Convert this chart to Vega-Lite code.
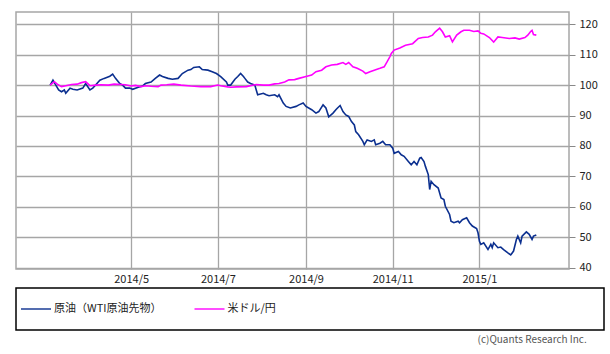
{
  "$schema": "https://vega.github.io/schema/vega-lite/v6.json",
  "background": "white",
  "padding": {"left": 15, "top": 11, "right": 7, "bottom": 4},
  "spacing": 2,
  "config": {"font": "Noto Sans CJK JP", "view": {"stroke": "#a6a6a6"}},
  "title": {"text": "(c)Quants Research Inc.", "orient": "bottom", "anchor": "end", "fontSize": 10, "fontWeight": "normal", "color": "#555555", "offset": 4, "dx": -18},
  "datasets": {
    "prices": [
      {"date": "2014-03-05", "key": "WTI", "value": 100},
      {"date": "2014-03-07", "key": "WTI", "value": 101.6},
      {"date": "2014-03-09", "key": "WTI", "value": 100},
      {"date": "2014-03-11", "key": "WTI", "value": 98.4},
      {"date": "2014-03-13", "key": "WTI", "value": 97.8},
      {"date": "2014-03-15", "key": "WTI", "value": 98.4},
      {"date": "2014-03-16", "key": "WTI", "value": 97.3},
      {"date": "2014-03-19", "key": "WTI", "value": 99},
      {"date": "2014-03-21", "key": "WTI", "value": 98.6},
      {"date": "2014-03-24", "key": "WTI", "value": 98.4},
      {"date": "2014-03-28", "key": "WTI", "value": 99},
      {"date": "2014-03-30", "key": "WTI", "value": 100.5},
      {"date": "2014-04-02", "key": "WTI", "value": 98.4},
      {"date": "2014-04-04", "key": "WTI", "value": 99},
      {"date": "2014-04-06", "key": "WTI", "value": 100},
      {"date": "2014-04-09", "key": "WTI", "value": 101.6},
      {"date": "2014-04-12", "key": "WTI", "value": 102.2},
      {"date": "2014-04-16", "key": "WTI", "value": 102.9},
      {"date": "2014-04-18", "key": "WTI", "value": 103.6},
      {"date": "2014-04-20", "key": "WTI", "value": 102.2},
      {"date": "2014-04-23", "key": "WTI", "value": 100.5},
      {"date": "2014-04-25", "key": "WTI", "value": 100},
      {"date": "2014-04-27", "key": "WTI", "value": 99},
      {"date": "2014-04-30", "key": "WTI", "value": 99},
      {"date": "2014-05-02", "key": "WTI", "value": 98.6},
      {"date": "2014-05-06", "key": "WTI", "value": 99.3},
      {"date": "2014-05-09", "key": "WTI", "value": 99.7},
      {"date": "2014-05-11", "key": "WTI", "value": 100.5},
      {"date": "2014-05-15", "key": "WTI", "value": 101},
      {"date": "2014-05-18", "key": "WTI", "value": 102.2},
      {"date": "2014-05-21", "key": "WTI", "value": 103.3},
      {"date": "2014-05-23", "key": "WTI", "value": 102.8},
      {"date": "2014-05-27", "key": "WTI", "value": 102.2},
      {"date": "2014-05-30", "key": "WTI", "value": 101.9},
      {"date": "2014-06-03", "key": "WTI", "value": 102.2},
      {"date": "2014-06-06", "key": "WTI", "value": 103.8},
      {"date": "2014-06-10", "key": "WTI", "value": 104.9},
      {"date": "2014-06-12", "key": "WTI", "value": 105.1},
      {"date": "2014-06-14", "key": "WTI", "value": 105.8},
      {"date": "2014-06-18", "key": "WTI", "value": 106},
      {"date": "2014-06-20", "key": "WTI", "value": 105.1},
      {"date": "2014-06-24", "key": "WTI", "value": 104.9},
      {"date": "2014-06-27", "key": "WTI", "value": 104.4},
      {"date": "2014-06-30", "key": "WTI", "value": 103.8},
      {"date": "2014-07-03", "key": "WTI", "value": 102.8},
      {"date": "2014-07-07", "key": "WTI", "value": 101},
      {"date": "2014-07-08", "key": "WTI", "value": 100},
      {"date": "2014-07-10", "key": "WTI", "value": 100},
      {"date": "2014-07-13", "key": "WTI", "value": 101.9},
      {"date": "2014-07-15", "key": "WTI", "value": 102.8},
      {"date": "2014-07-17", "key": "WTI", "value": 103.8},
      {"date": "2014-07-19", "key": "WTI", "value": 102.8},
      {"date": "2014-07-20", "key": "WTI", "value": 102.2},
      {"date": "2014-07-22", "key": "WTI", "value": 101},
      {"date": "2014-07-24", "key": "WTI", "value": 100.5},
      {"date": "2014-07-27", "key": "WTI", "value": 100},
      {"date": "2014-07-28", "key": "WTI", "value": 98.4},
      {"date": "2014-07-29", "key": "WTI", "value": 96.8},
      {"date": "2014-08-02", "key": "WTI", "value": 97.3},
      {"date": "2014-08-04", "key": "WTI", "value": 96.8},
      {"date": "2014-08-06", "key": "WTI", "value": 96.5},
      {"date": "2014-08-10", "key": "WTI", "value": 96.8},
      {"date": "2014-08-12", "key": "WTI", "value": 96.2},
      {"date": "2014-08-13", "key": "WTI", "value": 96.8},
      {"date": "2014-08-16", "key": "WTI", "value": 94.1},
      {"date": "2014-08-18", "key": "WTI", "value": 93},
      {"date": "2014-08-21", "key": "WTI", "value": 92.5},
      {"date": "2014-08-25", "key": "WTI", "value": 93},
      {"date": "2014-08-27", "key": "WTI", "value": 93.5},
      {"date": "2014-08-30", "key": "WTI", "value": 94.1},
      {"date": "2014-09-01", "key": "WTI", "value": 93},
      {"date": "2014-09-05", "key": "WTI", "value": 91.9},
      {"date": "2014-09-08", "key": "WTI", "value": 90.8},
      {"date": "2014-09-10", "key": "WTI", "value": 91.3},
      {"date": "2014-09-13", "key": "WTI", "value": 93.5},
      {"date": "2014-09-15", "key": "WTI", "value": 92.5},
      {"date": "2014-09-17", "key": "WTI", "value": 89.6},
      {"date": "2014-09-20", "key": "WTI", "value": 90.8},
      {"date": "2014-09-22", "key": "WTI", "value": 91.9},
      {"date": "2014-09-23", "key": "WTI", "value": 92.4},
      {"date": "2014-09-25", "key": "WTI", "value": 93.3},
      {"date": "2014-09-27", "key": "WTI", "value": 91.3},
      {"date": "2014-09-29", "key": "WTI", "value": 90.2},
      {"date": "2014-10-01", "key": "WTI", "value": 89.7},
      {"date": "2014-10-03", "key": "WTI", "value": 88},
      {"date": "2014-10-05", "key": "WTI", "value": 86.9},
      {"date": "2014-10-06", "key": "WTI", "value": 84.7},
      {"date": "2014-10-08", "key": "WTI", "value": 83.7},
      {"date": "2014-10-11", "key": "WTI", "value": 81.5},
      {"date": "2014-10-12", "key": "WTI", "value": 80.4},
      {"date": "2014-10-14", "key": "WTI", "value": 82},
      {"date": "2014-10-17", "key": "WTI", "value": 81.5},
      {"date": "2014-10-19", "key": "WTI", "value": 82},
      {"date": "2014-10-20", "key": "WTI", "value": 80.4},
      {"date": "2014-10-23", "key": "WTI", "value": 80.9},
      {"date": "2014-10-25", "key": "WTI", "value": 81.5},
      {"date": "2014-10-27", "key": "WTI", "value": 80.4},
      {"date": "2014-10-30", "key": "WTI", "value": 80.4},
      {"date": "2014-11-01", "key": "WTI", "value": 79.3},
      {"date": "2014-11-02", "key": "WTI", "value": 77.6},
      {"date": "2014-11-05", "key": "WTI", "value": 78.2},
      {"date": "2014-11-07", "key": "WTI", "value": 77.1},
      {"date": "2014-11-09", "key": "WTI", "value": 76.6},
      {"date": "2014-11-12", "key": "WTI", "value": 74.9},
      {"date": "2014-11-14", "key": "WTI", "value": 73.8},
      {"date": "2014-11-16", "key": "WTI", "value": 74.9},
      {"date": "2014-11-18", "key": "WTI", "value": 73.8},
      {"date": "2014-11-20", "key": "WTI", "value": 76},
      {"date": "2014-11-21", "key": "WTI", "value": 76.2},
      {"date": "2014-11-23", "key": "WTI", "value": 74.9},
      {"date": "2014-11-24", "key": "WTI", "value": 73.3},
      {"date": "2014-11-26", "key": "WTI", "value": 70.6},
      {"date": "2014-11-27", "key": "WTI", "value": 65.7},
      {"date": "2014-11-28", "key": "WTI", "value": 68.4},
      {"date": "2014-11-30", "key": "WTI", "value": 67.3},
      {"date": "2014-12-03", "key": "WTI", "value": 66.2},
      {"date": "2014-12-05", "key": "WTI", "value": 62.9},
      {"date": "2014-12-07", "key": "WTI", "value": 62.4},
      {"date": "2014-12-08", "key": "WTI", "value": 60.2},
      {"date": "2014-12-11", "key": "WTI", "value": 57.5},
      {"date": "2014-12-12", "key": "WTI", "value": 55.3},
      {"date": "2014-12-14", "key": "WTI", "value": 54.8},
      {"date": "2014-12-17", "key": "WTI", "value": 55.3},
      {"date": "2014-12-18", "key": "WTI", "value": 54.8},
      {"date": "2014-12-20", "key": "WTI", "value": 55.8},
      {"date": "2014-12-23", "key": "WTI", "value": 56.4},
      {"date": "2014-12-25", "key": "WTI", "value": 54.8},
      {"date": "2014-12-27", "key": "WTI", "value": 53.7},
      {"date": "2014-12-30", "key": "WTI", "value": 52.9},
      {"date": "2014-12-31", "key": "WTI", "value": 51.5},
      {"date": "2015-01-01", "key": "WTI", "value": 48.7},
      {"date": "2015-01-02", "key": "WTI", "value": 47.7},
      {"date": "2015-01-04", "key": "WTI", "value": 48.2},
      {"date": "2015-01-07", "key": "WTI", "value": 46},
      {"date": "2015-01-09", "key": "WTI", "value": 47.7},
      {"date": "2015-01-10", "key": "WTI", "value": 46.6},
      {"date": "2015-01-11", "key": "WTI", "value": 48.2},
      {"date": "2015-01-14", "key": "WTI", "value": 46.6},
      {"date": "2015-01-16", "key": "WTI", "value": 46.8},
      {"date": "2015-01-18", "key": "WTI", "value": 46},
      {"date": "2015-01-21", "key": "WTI", "value": 44.9},
      {"date": "2015-01-23", "key": "WTI", "value": 44.2},
      {"date": "2015-01-25", "key": "WTI", "value": 45.5},
      {"date": "2015-01-27", "key": "WTI", "value": 49.3},
      {"date": "2015-01-28", "key": "WTI", "value": 50.4},
      {"date": "2015-01-30", "key": "WTI", "value": 48.2},
      {"date": "2015-01-31", "key": "WTI", "value": 50.4},
      {"date": "2015-02-03", "key": "WTI", "value": 51.8},
      {"date": "2015-02-05", "key": "WTI", "value": 51},
      {"date": "2015-02-07", "key": "WTI", "value": 49.3},
      {"date": "2015-02-08", "key": "WTI", "value": 50.4},
      {"date": "2015-02-10", "key": "WTI", "value": 50.8},
      {"date": "2014-03-05", "key": "USDJPY", "value": 100},
      {"date": "2014-03-08", "key": "USDJPY", "value": 101.1},
      {"date": "2014-03-10", "key": "USDJPY", "value": 100.3},
      {"date": "2014-03-13", "key": "USDJPY", "value": 99.5},
      {"date": "2014-03-16", "key": "USDJPY", "value": 99.8},
      {"date": "2014-03-20", "key": "USDJPY", "value": 100.2},
      {"date": "2014-03-24", "key": "USDJPY", "value": 100.3},
      {"date": "2014-03-27", "key": "USDJPY", "value": 100.8},
      {"date": "2014-03-30", "key": "USDJPY", "value": 101.1},
      {"date": "2014-04-02", "key": "USDJPY", "value": 99.8},
      {"date": "2014-04-06", "key": "USDJPY", "value": 100},
      {"date": "2014-04-10", "key": "USDJPY", "value": 100.1},
      {"date": "2014-04-15", "key": "USDJPY", "value": 100},
      {"date": "2014-04-19", "key": "USDJPY", "value": 100.3},
      {"date": "2014-04-24", "key": "USDJPY", "value": 100.2},
      {"date": "2014-04-27", "key": "USDJPY", "value": 100.1},
      {"date": "2014-05-01", "key": "USDJPY", "value": 99.7},
      {"date": "2014-05-04", "key": "USDJPY", "value": 99.9},
      {"date": "2014-05-08", "key": "USDJPY", "value": 99.5},
      {"date": "2014-05-11", "key": "USDJPY", "value": 99.8},
      {"date": "2014-05-15", "key": "USDJPY", "value": 99.6},
      {"date": "2014-05-20", "key": "USDJPY", "value": 99.5},
      {"date": "2014-05-22", "key": "USDJPY", "value": 100},
      {"date": "2014-05-26", "key": "USDJPY", "value": 100.1},
      {"date": "2014-05-31", "key": "USDJPY", "value": 100.3},
      {"date": "2014-06-05", "key": "USDJPY", "value": 100},
      {"date": "2014-06-12", "key": "USDJPY", "value": 99.7},
      {"date": "2014-06-19", "key": "USDJPY", "value": 99.5},
      {"date": "2014-06-26", "key": "USDJPY", "value": 99.5},
      {"date": "2014-07-01", "key": "USDJPY", "value": 100},
      {"date": "2014-07-03", "key": "USDJPY", "value": 99.8},
      {"date": "2014-07-08", "key": "USDJPY", "value": 99.4},
      {"date": "2014-07-10", "key": "USDJPY", "value": 99.3},
      {"date": "2014-07-14", "key": "USDJPY", "value": 99.4},
      {"date": "2014-07-21", "key": "USDJPY", "value": 99.5},
      {"date": "2014-07-28", "key": "USDJPY", "value": 100.2},
      {"date": "2014-08-02", "key": "USDJPY", "value": 100},
      {"date": "2014-08-06", "key": "USDJPY", "value": 100},
      {"date": "2014-08-10", "key": "USDJPY", "value": 100.4},
      {"date": "2014-08-13", "key": "USDJPY", "value": 100.5},
      {"date": "2014-08-17", "key": "USDJPY", "value": 101},
      {"date": "2014-08-20", "key": "USDJPY", "value": 101.7},
      {"date": "2014-08-24", "key": "USDJPY", "value": 101.8},
      {"date": "2014-08-27", "key": "USDJPY", "value": 102.2},
      {"date": "2014-09-01", "key": "USDJPY", "value": 102.8},
      {"date": "2014-09-05", "key": "USDJPY", "value": 103.3},
      {"date": "2014-09-08", "key": "USDJPY", "value": 104.4},
      {"date": "2014-09-12", "key": "USDJPY", "value": 104.9},
      {"date": "2014-09-15", "key": "USDJPY", "value": 106},
      {"date": "2014-09-19", "key": "USDJPY", "value": 106.6},
      {"date": "2014-09-23", "key": "USDJPY", "value": 106.8},
      {"date": "2014-09-27", "key": "USDJPY", "value": 107.4},
      {"date": "2014-09-29", "key": "USDJPY", "value": 106.8},
      {"date": "2014-10-01", "key": "USDJPY", "value": 107.4},
      {"date": "2014-10-04", "key": "USDJPY", "value": 106},
      {"date": "2014-10-07", "key": "USDJPY", "value": 105.5},
      {"date": "2014-10-11", "key": "USDJPY", "value": 104.6},
      {"date": "2014-10-13", "key": "USDJPY", "value": 103.8},
      {"date": "2014-10-16", "key": "USDJPY", "value": 104.4},
      {"date": "2014-10-19", "key": "USDJPY", "value": 104.9},
      {"date": "2014-10-23", "key": "USDJPY", "value": 105.5},
      {"date": "2014-10-26", "key": "USDJPY", "value": 106},
      {"date": "2014-10-28", "key": "USDJPY", "value": 107.6},
      {"date": "2014-10-30", "key": "USDJPY", "value": 109.3},
      {"date": "2014-10-31", "key": "USDJPY", "value": 110.4},
      {"date": "2014-11-02", "key": "USDJPY", "value": 111.5},
      {"date": "2014-11-06", "key": "USDJPY", "value": 112.2},
      {"date": "2014-11-10", "key": "USDJPY", "value": 113.1},
      {"date": "2014-11-15", "key": "USDJPY", "value": 113.6},
      {"date": "2014-11-19", "key": "USDJPY", "value": 115.3},
      {"date": "2014-11-22", "key": "USDJPY", "value": 115.6},
      {"date": "2014-11-26", "key": "USDJPY", "value": 115.8},
      {"date": "2014-11-29", "key": "USDJPY", "value": 116.4},
      {"date": "2014-12-01", "key": "USDJPY", "value": 117.5},
      {"date": "2014-12-04", "key": "USDJPY", "value": 118.7},
      {"date": "2014-12-06", "key": "USDJPY", "value": 117.5},
      {"date": "2014-12-08", "key": "USDJPY", "value": 115.8},
      {"date": "2014-12-11", "key": "USDJPY", "value": 116.2},
      {"date": "2014-12-13", "key": "USDJPY", "value": 114.2},
      {"date": "2014-12-16", "key": "USDJPY", "value": 116.4},
      {"date": "2014-12-19", "key": "USDJPY", "value": 117.5},
      {"date": "2014-12-21", "key": "USDJPY", "value": 118},
      {"date": "2014-12-25", "key": "USDJPY", "value": 118},
      {"date": "2014-12-28", "key": "USDJPY", "value": 117.6},
      {"date": "2014-12-31", "key": "USDJPY", "value": 117.8},
      {"date": "2015-01-02", "key": "USDJPY", "value": 117},
      {"date": "2015-01-04", "key": "USDJPY", "value": 116.8},
      {"date": "2015-01-08", "key": "USDJPY", "value": 115.6},
      {"date": "2015-01-11", "key": "USDJPY", "value": 114.1},
      {"date": "2015-01-14", "key": "USDJPY", "value": 115.8},
      {"date": "2015-01-17", "key": "USDJPY", "value": 115.6},
      {"date": "2015-01-22", "key": "USDJPY", "value": 115.3},
      {"date": "2015-01-26", "key": "USDJPY", "value": 115.5},
      {"date": "2015-01-29", "key": "USDJPY", "value": 115.1},
      {"date": "2015-02-02", "key": "USDJPY", "value": 115.6},
      {"date": "2015-02-04", "key": "USDJPY", "value": 116.4},
      {"date": "2015-02-06", "key": "USDJPY", "value": 117.6},
      {"date": "2015-02-07", "key": "USDJPY", "value": 118},
      {"date": "2015-02-08", "key": "USDJPY", "value": 116.6},
      {"date": "2015-02-10", "key": "USDJPY", "value": 116.4}
    ],
    "legendItems": [
      {"key": "WTI", "label": "原油（WTI原油先物）"},
      {"key": "USDJPY", "label": "米ドル/円"}
    ]
  },
  "vconcat": [
    {
      "width": 553,
      "height": 257,
      "view": {"stroke": "#a6a6a6", "strokeWidth": 1.5},
      "data": {"name": "prices"},
      "mark": {"type": "line", "strokeWidth": 1.6},
      "encoding": {
        "x": {
          "field": "date",
          "type": "temporal",
          "scale": {"type": "utc", "domain": [{"year": 2014, "month": 2, "date": 9, "utc": true}, {"year": 2015, "month": 3, "date": 5, "utc": true}]},
          "axis": {
            "title": null,
            "values": [
              {"year": 2014, "month": 5, "date": 1, "utc": true},
              {"year": 2014, "month": 7, "date": 1, "utc": true},
              {"year": 2014, "month": 9, "date": 1, "utc": true},
              {"year": 2014, "month": 11, "date": 1, "utc": true},
              {"year": 2015, "month": 1, "date": 1, "utc": true}
            ],
            "format": "%Y/%-m",
            "grid": true,
            "gridColor": "#a6a6a6",
            "gridWidth": 1.3,
            "domain": false,
            "ticks": false,
            "labelPadding": 4,
            "labelFontSize": 11,
            "labelColor": "#222222",
            "labelFlush": false
          }
        },
        "y": {
          "field": "value",
          "type": "quantitative",
          "scale": {"domain": [39.6, 124], "nice": false, "zero": false},
          "axis": {
            "orient": "right",
            "title": null,
            "values": [40, 50, 60, 70, 80, 90, 100, 110, 120],
            "grid": true,
            "gridColor": "#a6a6a6",
            "gridWidth": 1.3,
            "domain": false,
            "ticks": true,
            "tickSize": 6,
            "tickColor": "#888888",
            "labelPadding": 4,
            "labelFontSize": 11,
            "labelColor": "#222222"
          }
        },
        "color": {
          "field": "key",
          "type": "nominal",
          "scale": {"domain": ["WTI", "USDJPY"], "range": ["#0b2f8f", "#ff00ff"]},
          "legend": null
        }
      }
    },
    {
      "width": 588,
      "height": 42,
      "view": {"stroke": "#000000", "strokeWidth": 1.5},
      "data": {"name": "legendItems"},
      "layer": [
        {
          "mark": {"type": "point", "shape": "stroke", "size": 900, "strokeWidth": 1.4, "filled": false, "opacity": 1},
          "encoding": {
            "x": {"field": "key", "type": "nominal", "scale": {"type": "point", "domain": ["WTI", "USDJPY"], "range": [20, 193.5], "padding": 0}, "axis": null},
            "color": {"field": "key", "type": "nominal", "scale": {"domain": ["WTI", "USDJPY"], "range": ["#0b2f8f", "#ff00ff"]}, "legend": null}
          }
        },
        {
          "mark": {"type": "text", "align": "left", "baseline": "middle", "dx": 18, "fontSize": 11, "color": "#222222"},
          "encoding": {
            "x": {"field": "key", "type": "nominal", "scale": {"type": "point", "domain": ["WTI", "USDJPY"], "range": [20, 193.5], "padding": 0}, "axis": null},
            "text": {"field": "label", "type": "nominal"}
          }
        }
      ]
    }
  ]
}
